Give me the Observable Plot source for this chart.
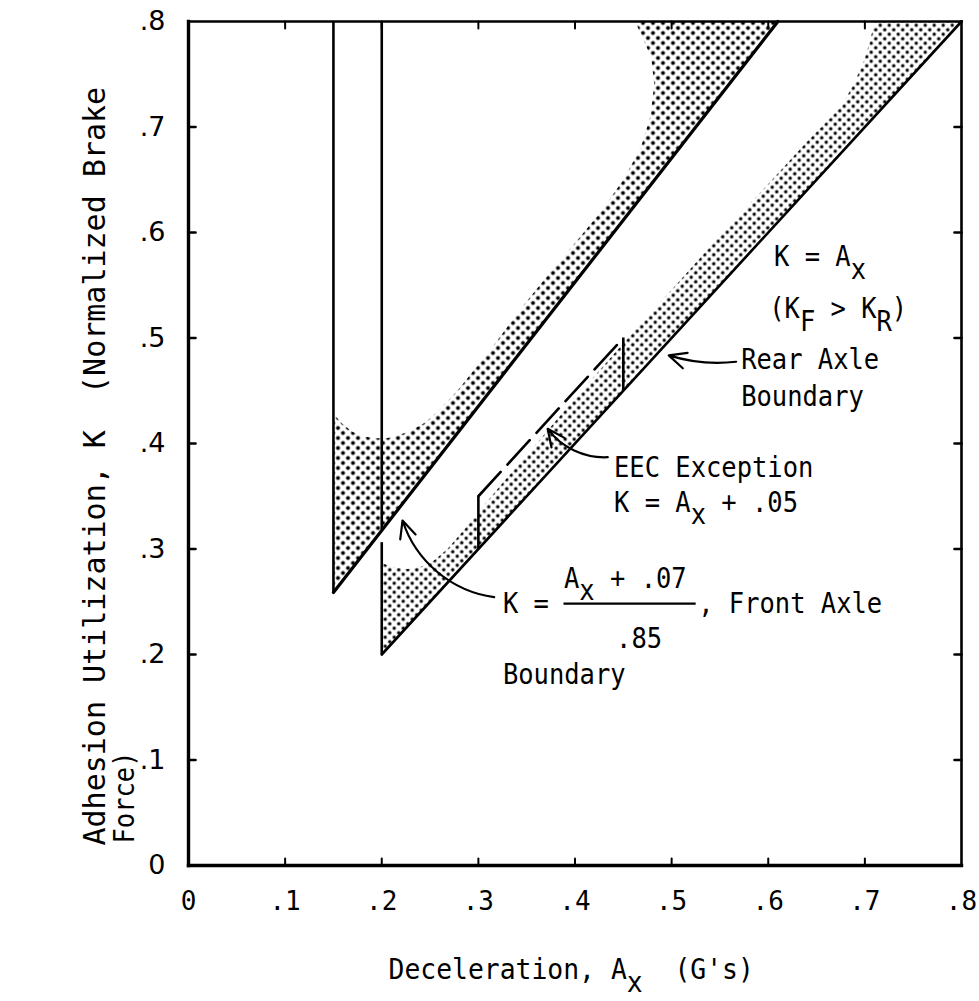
<!DOCTYPE html>
<html>
<head>
<meta charset="utf-8">
<script src="https://cdn.jsdelivr.net/npm/d3@7"></script>
<script src="https://cdn.jsdelivr.net/npm/@observablehq/plot@0.6"></script>
<style>
  html, body { margin: 0; padding: 0; background: #fff; }
  svg { display: block; }
  svg text { white-space: pre; }
</style>
</head>
<body>
<div id="chart"></div>
<script>
// ---- tick values & labels ----
const xTicks = [0, 0.1, 0.2, 0.3, 0.4, 0.5, 0.6, 0.7, 0.8];
const xTickLabels = ["0", ".1", ".2", ".3", ".4", ".5", ".6", ".7", ".8"];
const yTicks = [0, 0.1, 0.2, 0.3, 0.4, 0.5, 0.6, 0.7, 0.8];
const yTickLabels = ["0", ".1", ".2", ".3", ".4", ".5", ".6", ".7", ".8"];

// ---- boundary lines (Ax, K) ----
const frontAxleLine = [[0.15, 0.2588], [0.61, 0.8]];      // K = (Ax + .07)/.85
const rearAxleLine = [[0.2, 0.2], [0.8, 0.8]];            // K = Ax
const eecLine = [[0.3, 0.35], [0.45, 0.5]];               // K = Ax + .05 (dashed)
const verticalAx = [0.15, 0.2, 0.2, 0.3, 0.45];
const verticalK1 = [0.2588, 0.318, 0.2, 0.3, 0.45];
const verticalK2 = [0.8, 0.8, 0.306, 0.35, 0.5];

// ---- stippled zones (Ax, K) ----
const frontZone = [
  [0.15, 0.2588], [0.15, 0.428], [0.16, 0.418], [0.17, 0.411], [0.18, 0.407],
  [0.192, 0.405], [0.205, 0.405], [0.215, 0.407], [0.23, 0.412], [0.245, 0.42],
  [0.26, 0.432], [0.28, 0.452], [0.3, 0.475], [0.32, 0.498], [0.344, 0.528],
  [0.375, 0.563], [0.4, 0.59], [0.427, 0.62], [0.45, 0.65], [0.468, 0.68],
  [0.478, 0.71], [0.482, 0.74], [0.479, 0.765], [0.47, 0.785], [0.462, 0.8],
  [0.61, 0.8]
];
const rearZone = [
  [0.2, 0.2], [0.2, 0.287], [0.21, 0.283], [0.227, 0.281], [0.24, 0.283],
  [0.254, 0.289], [0.268, 0.3], [0.285, 0.318], [0.3, 0.335], [0.33, 0.368],
  [0.362, 0.402], [0.4, 0.443], [0.453, 0.498], [0.51, 0.556], [0.56, 0.607],
  [0.6, 0.646], [0.64, 0.686], [0.676, 0.72], [0.688, 0.74], [0.698, 0.76],
  [0.705, 0.78], [0.71, 0.8], [0.8, 0.8]
];

// ---- annotation texts (left edge Ax, baseline K) ----
const noteText = [
  "K = A_{x}", "(K_{F} > K_{R})", "Rear Axle", "Boundary",
  "EEC Exception", "K = A_{x} + .05",
  "A_{x} + .07", "K =", ", Front Axle", ".85", "Boundary"
];
const noteAx = [0.606, 0.601, 0.572, 0.572, 0.4404, 0.4404, 0.3886, 0.3254, 0.5275, 0.4425, 0.3254];
const noteK  = [0.568, 0.5185, 0.4702, 0.436, 0.3678, 0.3355, 0.2635, 0.2389, 0.2389, 0.2066, 0.1725];

// fraction bar
const barK = [0.2483];
const barAx1 = [0.3886];
const barAx2 = [0.5254];

// ---- arrows: tail (x1,y1) -> head (x2,y2) ----
const arrowNames = ["rear", "eec", "front"];
const arrowX1 = [0.5668, 0.4339, 0.3164];
const arrowY1 = [0.4775, 0.387, 0.2543];
const arrowX2 = [0.497, 0.3717, 0.2215];
const arrowY2 = [0.4835, 0.4139, 0.327];
const arrowBend = [12, 28, 32];

const xLabel = "Deceleration, A_{x}  (G's)";
const yLabel1 = "Adhesion Utilization, K  (Normalized Brake";
const yLabel2 = "Force)";

// ---- build tables ----
const verticals = verticalAx.map((ax, i) => ({ax, k1: verticalK1[i], k2: verticalK2[i]}));
const notes = noteText.map((text, i) => ({text, ax: noteAx[i], k: noteK[i]}));
const bars = barK.map((k, i) => ({k, a1: barAx1[i], a2: barAx2[i]}));
const arrows = arrowNames.map((name, i) => ({name, x1: arrowX1[i], y1: arrowY1[i], x2: arrowX2[i], y2: arrowY2[i], bend: arrowBend[i]}));

const FONT = "DejaVu Sans Mono";
const TICK = 7;
const tickShape = {draw(context, l) { context.moveTo(0, 0); context.lineTo(0, -l); }};
const innerX = xTicks.slice(1, -1);
const innerY = yTicks.slice(1, -1);

const chart = Plot.plot({
  width: 979,
  height: 1001,
  marginLeft: 188,
  marginRight: 18,
  marginTop: 21,
  marginBottom: 136,
  style: {fontFamily: FONT, fontSize: "23px", background: "#fff", color: "#000"},
  x: {domain: [0, 0.8]},
  y: {domain: [0, 0.8]},
  marks: [
    Plot.line(frontZone, {x: d => d[0], y: d => d[1], fill: "url(#dotsDense)", stroke: "none"}),
    Plot.line(rearZone, {x: d => d[0], y: d => d[1], fill: "url(#dotsLight)", stroke: "none"}),
    Plot.ruleX(verticals, {x: "ax", y1: "k1", y2: "k2", strokeWidth: 2.6}),
    Plot.line(frontAxleLine, {x: d => d[0], y: d => d[1], strokeWidth: 3.2}),
    Plot.line(rearAxleLine, {x: d => d[0], y: d => d[1], strokeWidth: 2.6}),
    Plot.line(eecLine, {x: d => d[0], y: d => d[1], strokeWidth: 2.6, strokeDasharray: "33,10"}),
    ...arrows.map(a => Plot.arrow([a], {x1: "x1", y1: "y1", x2: "x2", y2: "y2", bend: a.bend, strokeWidth: 2.2, headLength: 13, headAngle: 50})),
    Plot.ruleY(bars, {y: "k", x1: "a1", x2: "a2", strokeWidth: 2.2}),
    Plot.text(notes, {x: "ax", y: "k", text: "text", textAnchor: "start", lineAnchor: "bottom", fontSize: 28, fontFamily: FONT}),
    // frame: heavier bottom/left, lighter top/right
    Plot.frame({anchor: "top", strokeWidth: 2.6}),
    Plot.frame({anchor: "right", strokeWidth: 2.6}),
    Plot.frame({anchor: "bottom", strokeWidth: 3.4}),
    Plot.frame({anchor: "left", strokeWidth: 3.4}),
    // inward ticks on all four sides
    Plot.vector(innerX, {x: d => d, frameAnchor: "bottom", length: TICK, rotate: 0, anchor: "start", shape: tickShape, strokeWidth: 2}),
    Plot.vector(innerX, {x: d => d, frameAnchor: "top", length: TICK, rotate: 180, anchor: "start", shape: tickShape, strokeWidth: 2}),
    Plot.vector(innerY, {y: d => d, frameAnchor: "left", length: TICK, rotate: 90, anchor: "start", shape: tickShape, strokeWidth: 2.6}),
    Plot.vector(innerY, {y: d => d, frameAnchor: "right", length: TICK, rotate: -90, anchor: "start", shape: tickShape, strokeWidth: 2.6}),
    // tick labels
    Plot.axisX({anchor: "bottom", ticks: xTicks, tickSize: 0, tickPadding: 26, label: null, fontSize: 26, fontFamily: FONT,
      tickFormat: d => xTickLabels[xTicks.indexOf(d)]}),
    Plot.axisY({anchor: "left", ticks: yTicks, tickSize: 0, tickPadding: 23, label: null, fontSize: 27, fontFamily: "DejaVu Sans",
      tickFormat: d => yTickLabels[yTicks.indexOf(d)]}),
    // axis titles
    Plot.text([xLabel], {frameAnchor: "bottom-left", text: d => d, dx: 200, dy: 113, textAnchor: "start", lineAnchor: "bottom", fontSize: 29, fontFamily: FONT}),
    Plot.text([yLabel1], {frameAnchor: "bottom-left", text: d => d, rotate: -90, dx: -84, dy: -20, textAnchor: "start", lineAnchor: "middle", fontSize: 30, fontFamily: FONT}),
    Plot.text([yLabel2], {frameAnchor: "bottom-left", text: d => d, rotate: -90, dx: -55, dy: -22, textAnchor: "start", lineAnchor: "middle", fontSize: 28, fontFamily: FONT})
  ]
});

// stipple patterns
const NS = "http://www.w3.org/2000/svg";
const defs = d3.select(chart).insert("defs", ":first-child");
function addPattern(id, size, r) {
  const p = defs.append("pattern").attr("id", id).attr("patternUnits", "userSpaceOnUse")
    .attr("width", size).attr("height", size);
  p.append("circle").attr("cx", size / 4).attr("cy", size / 4).attr("r", r).attr("fill", "#000");
  p.append("circle").attr("cx", 3 * size / 4).attr("cy", 3 * size / 4).attr("r", r).attr("fill", "#000");
}
addPattern("dotsDense", 10, 2.0);
addPattern("dotsLight", 9, 1.65);

// subscripts + condensed lettering for annotation/title texts
function applySubscripts(el) {
  const s = el.textContent;
  if (!s.includes("_{")) return;
  el.textContent = "";
  const re = /_\{([^}]*)\}/g;
  let last = 0, m;
  const parts = [];
  while ((m = re.exec(s))) {
    if (m.index > last) parts.push({t: s.slice(last, m.index), sub: false});
    parts.push({t: m[1], sub: true});
    last = re.lastIndex;
  }
  if (last < s.length) parts.push({t: s.slice(last), sub: false});
  let down = false;
  for (const p of parts) {
    const ts = document.createElementNS(NS, "tspan");
    ts.textContent = p.t;
    if (p.sub && !down) { ts.setAttribute("dy", "0.45em"); down = true; }
    else if (!p.sub && down) { ts.setAttribute("dy", "-0.45em"); down = false; }
    el.appendChild(ts);
  }
}
d3.select(chart).selectAll('g[aria-label="text"] text').each(function() {
  applySubscripts(this);
  const fs = parseFloat(this.getAttribute("font-size") || this.parentNode.getAttribute("font-size") || "0");
  const sx = fs >= 30 ? 1 : 0.91;
  const t = this.getAttribute("transform") || "";
  const x = +this.getAttribute("x") || 0, y = +this.getAttribute("y") || 0;
  this.removeAttribute("x"); this.removeAttribute("y");
  this.setAttribute("transform", `${t} translate(${x},${y}) scale(${sx},1)`);
});

document.getElementById("chart").appendChild(chart);
</script>
</body>
</html>
